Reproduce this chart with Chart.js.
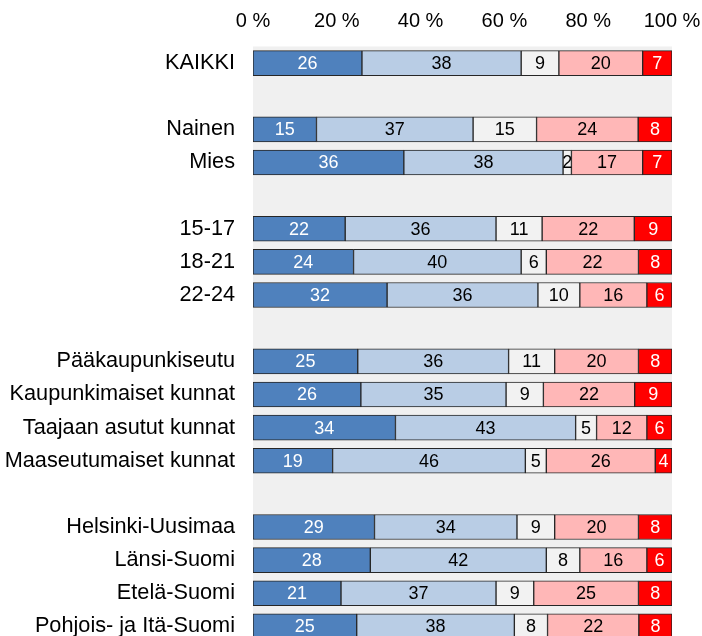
<!DOCTYPE html>
<html>
<script src="https://cdn.jsdelivr.net/npm/chart.js"></script>
<style type="text/css">
  html, body { margin: 0; padding: 0; overflow: hidden; background: #fff; }
  .chartBox { width: 702px; height: 643px; }
</style>
<body>
  <div class="chartBox">
    <canvas id="myChart" width="702" height="643"></canvas>
  </div>

  <script>
    const categories = ['KAIKKI', '', 'Nainen', 'Mies', '', '15-17', '18-21', '22-24', '',
      'Pääkaupunkiseutu', 'Kaupunkimaiset kunnat', 'Taajaan asutut kunnat', 'Maaseutumaiset kunnat', '',
      'Helsinki-Uusimaa', 'Länsi-Suomi', 'Etelä-Suomi', 'Pohjois- ja Itä-Suomi'];

    // one array per answer group, null = spacer row
    const s1 = [26, null, 15, 36, null, 22, 24, 32, null, 25, 26, 34, 19, null, 29, 28, 21, 25];
    const s2 = [38, null, 37, 38, null, 36, 40, 36, null, 36, 35, 43, 46, null, 34, 42, 37, 38];
    const s3 = [9, null, 15, 2, null, 11, 6, 10, null, 11, 9, 5, 5, null, 9, 8, 9, 8];
    const s4 = [20, null, 24, 17, null, 22, 22, 16, null, 20, 22, 12, 26, null, 20, 16, 25, 22];
    const s5 = [7, null, 8, 7, null, 9, 8, 6, null, 8, 9, 6, 4, null, 8, 6, 8, 8];

    const xTicks = [0, 20, 40, 60, 80, 100];

    const series = [s1, s2, s3, s4, s5];
    const colors = ['#4f81bd', '#b9cde5', '#f2f2f2', '#ffb7b7', '#ff0000'];
    const labelColors = ['#ffffff', '#000000', '#000000', '#000000', '#ffffff'];
    const FONT = '"Liberation Sans", Arial, sans-serif';

    // stacked to 100 % per row
    const totals = categories.map((c, i) => series.reduce((a, s) => a + (s[i] || 0), 0));
    const datasets = series.map((s, k) => ({
      data: s.map((v, i) => v === null ? null : v / totals[i] * 100),
      raw: s,
      backgroundColor: colors[k],
      borderColor: '#262626',
      borderWidth: 1,
      borderSkipped: false,
      barThickness: 25,
      labelColor: labelColors[k]
    }));

    const plotBg = {
      id: 'plotBg',
      beforeDraw(chart) {
        const a = chart.chartArea;
        const c = chart.ctx;
        c.save();
        c.fillStyle = '#f0f0f0';
        c.fillRect(a.left, a.top, a.right - a.left, a.bottom - a.top);
        c.restore();
      }
    };

    const barLabels = {
      id: 'barLabels',
      afterDatasetsDraw(chart) {
        const c = chart.ctx;
        c.save();
        c.font = '18px ' + FONT;
        c.textAlign = 'center';
        c.textBaseline = 'middle';
        chart.data.datasets.forEach((ds, k) => {
          chart.getDatasetMeta(k).data.forEach((bar, i) => {
            const v = ds.raw[i];
            if (v === null) return;
            const p = bar.getProps(['x', 'y', 'base'], true);
            c.fillStyle = ds.labelColor;
            c.fillText(String(v), (p.x + p.base) / 2, p.y + 1);
          });
        });
        c.restore();
      }
    };

    var ctx = document.getElementById('myChart').getContext('2d');
    var myChart = new Chart(ctx, {
      type: 'bar',
      data: { labels: categories, datasets: datasets },
      plugins: [plotBg, barLabels],
      options: {
        indexAxis: 'y',
        responsive: false,
        animation: false,
        layout: { padding: { top: 0, right: 30, bottom: 0, left: 0 } },
        plugins: {
          legend: { display: false },
          tooltip: { enabled: false }
        },
        scales: {
          x: {
            stacked: true,
            position: 'top',
            min: 0,
            max: 100,
            afterBuildTicks(axis) { axis.ticks = xTicks.map(v => ({ value: v })); },
            afterFit(axis) {
              axis.height = 46.5;
              axis.paddingLeft = 0;
              axis.paddingRight = 0;
            },
            grid: { display: false, drawTicks: false },
            border: { display: false },
            ticks: {
              padding: 13,
              color: '#000',
              maxRotation: 0,
              font: { family: FONT, size: 20 },
              callback: v => v + ' %'
            }
          },
          y: {
            stacked: true,
            afterFit(axis) {
              axis.width = 253;
              axis.paddingTop = 0;
              axis.paddingBottom = 0;
            },
            grid: { display: false, drawTicks: false },
            border: { display: false },
            ticks: {
              padding: 18,
              color: '#000',
              autoSkip: false,
              font: { family: FONT, size: 21.7 }
            }
          }
        }
      }
    });
  </script>

</body>
</html>
